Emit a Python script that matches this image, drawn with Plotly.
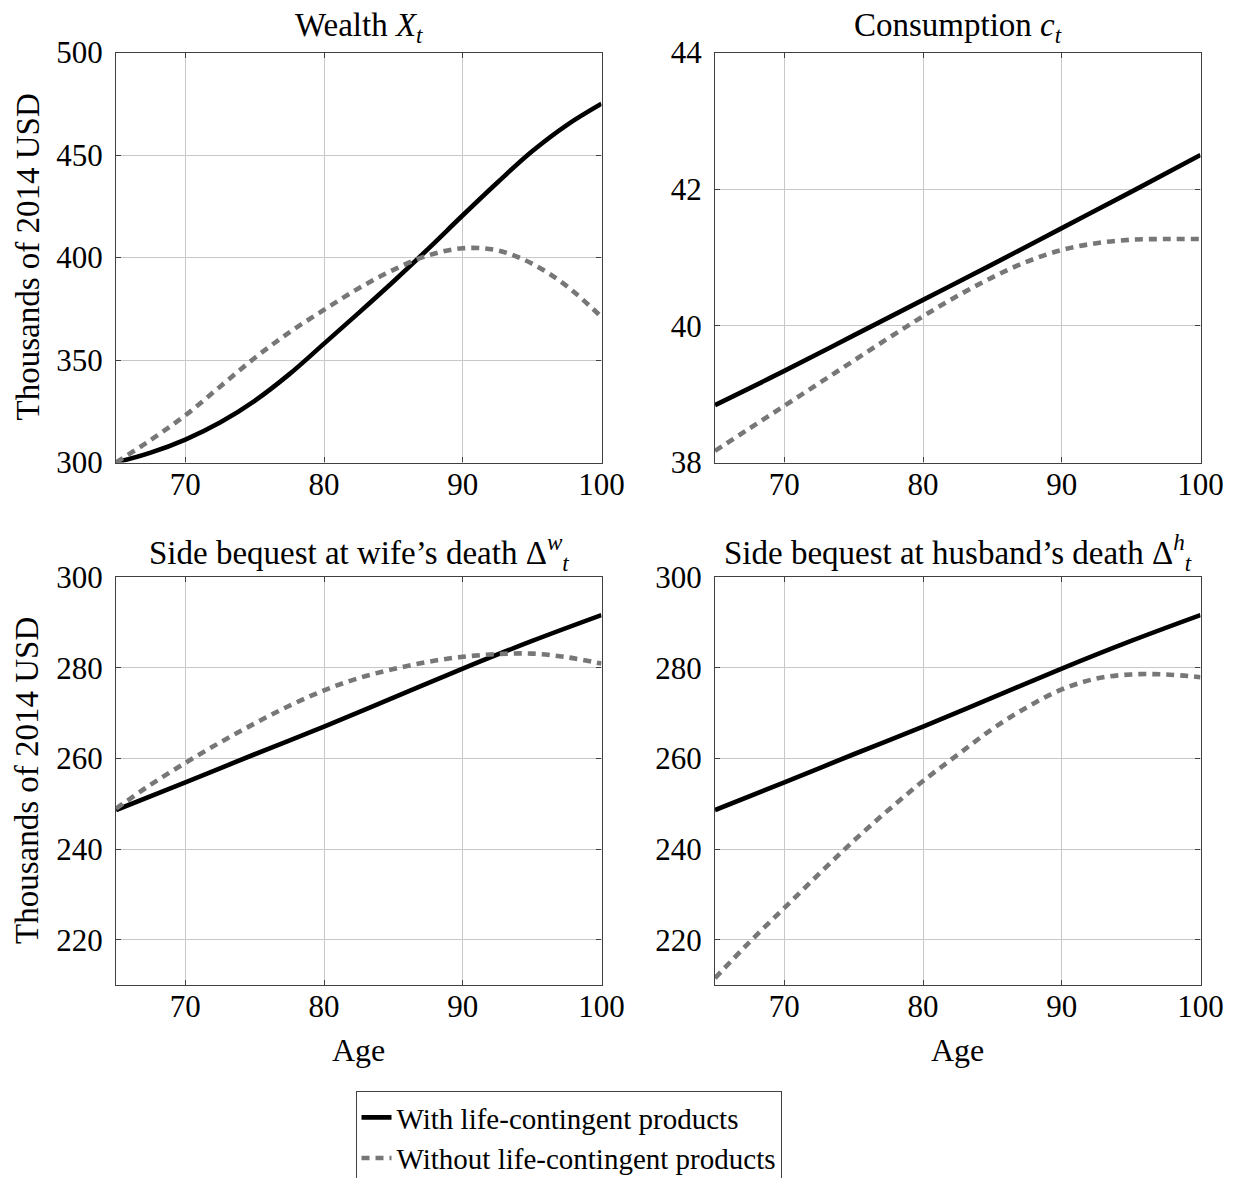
import plotly.graph_objects as go

# ---------------- data ----------------
ages_fine = [65, 67.5, 70, 72.5, 75, 77.5, 80, 82.5, 85, 87.5, 90, 92.5, 95, 97.5, 100]
ages_5 = [65, 70, 75, 80, 85, 90, 95, 100]

wealth_with = [300, 304.8, 311.2, 319.5, 330.1, 343.1, 358.0, 373.0, 388.3, 404.2, 420.6, 436.6,
               451.8, 464.6, 475]
wealth_without = [300, 311, 323, 337, 351, 363.5, 374.5, 385, 394, 401, 404.5, 403.5, 397, 386, 371]

cons_with = [38.84, 39.34, 39.86, 40.38, 40.9, 41.43, 41.96, 42.5]
cons_without = [38.17, 38.5, 38.83, 39.16, 39.49, 39.82, 40.14, 40.44, 40.71, 40.94, 41.11, 41.21,
                41.26, 41.27, 41.27]

wife_with = [248.6, 254.7, 260.9, 267.0, 273.4, 279.8, 285.9, 291.6]
wife_without = [248.9, 254.2, 259.0, 263.5, 267.7, 271.6, 275.0, 277.7, 279.7, 281.3, 282.4, 283.0,
                283.1, 282.3, 280.9]

husb_with = [248.6, 254.7, 260.9, 267.0, 273.4, 279.8, 285.9, 291.6]
husb_without = [211.5, 219.5, 227.0, 234.5, 241.8, 248.6, 255.0, 260.8, 266.5, 271.3, 275.2, 277.6,
                278.5, 278.5, 277.9]

titles = ["Wealth <i>X</i><sub><i>t</i></sub>",
          "Consumption <i>c</i><sub><i>t</i></sub>",
          "Side bequest at wife’s death Δ<sup><i>w</i></sup><sub><i>t</i></sub>",
          "Side bequest at husband’s death Δ<sup><i>h</i></sup><sub><i>t</i></sub>"]
legend_names = ["With life-contingent products", "Without life-contingent products"]
ytick_sets = [[300, 350, 400, 450, 500], [38, 40, 42, 44],
              [220, 240, 260, 280, 300], [220, 240, 260, 280, 300]]
yranges = [[300, 500], [38, 44], [210, 300], [210, 300]]
xticks = [70, 80, 90, 100]

# ---------------- figure ----------------
W, H = 1236, 1178
FONT = "'Liberation Serif', 'Times New Roman', 'DejaVu Serif', serif"
fig = go.Figure()

xs_with = [ages_fine, ages_5, ages_5, ages_5]
xs_without = [ages_fine, ages_fine, ages_fine, ages_fine]
ys_with = [wealth_with, cons_with, wife_with, husb_with]
ys_without = [wealth_without, cons_without, wife_without, husb_without]

px_x = [(116, 601.5), (715, 1200.5), (116, 601.5), (715, 1200.5)]
px_y = [(52.5, 462.5), (52.5, 462.5), (577, 985), (577, 985)]
title_y = [27, 27, 552, 552]

for i in range(4):
    ax = "" if i == 0 else str(i + 1)
    fig.add_trace(go.Scatter(
        x=xs_with[i], y=ys_with[i], mode="lines", line=dict(color="black", width=4.6, shape="spline"),
        name=legend_names[0], showlegend=(i == 0), xaxis="x" + ax, yaxis="y" + ax))
    fig.add_trace(go.Scatter(
        x=xs_without[i], y=ys_without[i], mode="lines",
        line=dict(color="#777777", width=4.6, dash="8px,6px", shape="spline"),
        name=legend_names[1], showlegend=(i == 0), xaxis="x" + ax, yaxis="y" + ax))

    x0, x1 = px_x[i]
    y0, y1 = px_y[i]
    common = dict(showgrid=True, gridcolor="#c8c8c8", gridwidth=1, showline=True, linecolor="#404040",
                  linewidth=1.3, mirror="ticks", ticks="inside", ticklen=5, tickcolor="#404040",
                  tickfont=dict(family=FONT, size=31, color="black"), zeroline=False)
    fig.layout["xaxis" + ax] = dict(domain=[x0 / W, x1 / W], range=[65, 100], tickvals=xticks,
                                    anchor="y" + ax, ticklabelstandoff=-6, **common)
    fig.layout["yaxis" + ax] = dict(domain=[1 - y1 / H, 1 - y0 / H], range=yranges[i],
                                    tickvals=ytick_sets[i], anchor="x" + ax, ticklabelstandoff=6,
                                    **common)
    fig.add_annotation(text=titles[i], x=(x0 + x1) / 2 / W, y=1 - title_y[i] / H,
                       xref="paper", yref="paper", xanchor="center", yanchor="middle",
                       showarrow=False, font=dict(family=FONT, size=33, color="black"))

# y-axis labels (left column)
for (y0, y1) in [(52.5, 462.5), (577, 985)]:
    fig.add_annotation(text="Thousands of 2014 USD", x=27 / W, y=1 - (y0 + y1) / 2 / H,
                       xref="paper", yref="paper", textangle=-90, showarrow=False,
                       xanchor="center", yanchor="middle", font=dict(family=FONT, size=33, color="black"))
# x-axis labels (bottom row)
for (x0, x1) in [(116, 601.5), (715, 1200.5)]:
    fig.add_annotation(text="Age", x=(x0 + x1) / 2 / W, y=1 - 1050 / H, xref="paper", yref="paper",
                       showarrow=False, xanchor="center", yanchor="middle",
                       font=dict(family=FONT, size=32, color="black"))

fig.update_layout(
    width=W, height=H, margin=dict(l=0, r=0, t=0, b=0, autoexpand=False),
    paper_bgcolor="white", plot_bgcolor="white",
    legend=dict(x=355.5 / W, xanchor="left", y=1 - 1091 / H, yanchor="top",
                bordercolor="#404040", borderwidth=1, bgcolor="white",
                font=dict(family=FONT, size=29, color="black"), tracegroupgap=0),
)

fig.write_html("out.html")
